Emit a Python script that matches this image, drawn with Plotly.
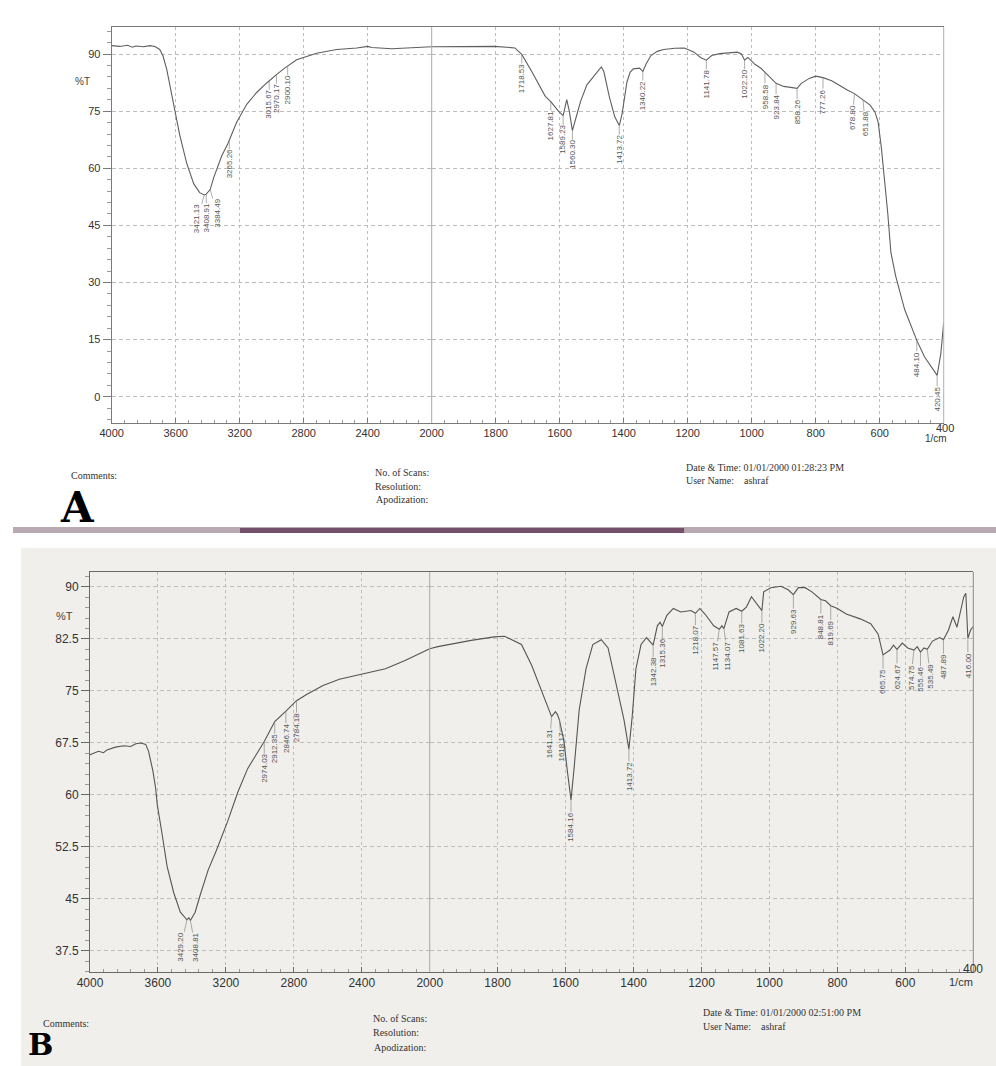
import numpy as np
import plotly.graph_objects as go

W, H = 996, 1066
def PX(px): return px / W
def PY(py): return 1 - py / H

# ---------------- Spectrum A ----------------
A_wavenumber = [4000, 3950, 3900, 3870, 3850, 3800, 3760, 3730, 3700, 3680,
                3656, 3630, 3612, 3575, 3531, 3487, 3450, 3421.13, 3408.91, 3384.49,
                3362, 3312, 3275, 3265.26, 3219, 3156, 3094, 3031, 3015.67, 2981,
                2970.17, 2919, 2900.10, 2844, 2719, 2594, 2469, 2400, 2375, 2250,
                2094, 2000, 1900, 1803, 1740, 1718.53, 1686, 1645, 1627.81, 1604,
                1589.23, 1578, 1570, 1560.30, 1548, 1535, 1515, 1495, 1478, 1470,
                1462, 1445, 1428, 1413.72, 1405, 1398, 1390, 1380, 1370, 1350,
                1340.22, 1330, 1315, 1295, 1275, 1240, 1210, 1180, 1160, 1141.78,
                1125, 1100, 1070, 1045, 1032, 1022.20, 1012, 990, 970, 958.58,
                940, 923.84, 900, 875, 858.26, 845, 820, 800, 777.26, 750,
                720, 700, 678.80, 651.88, 630, 615, 605, 595, 585, 575,
                565, 550, 522, 484.10, 460, 420.45, 409, 400]
A_transmittance = [92.2, 92.0, 92.3, 91.8, 92.1, 91.9, 92.2, 92.0, 91.2, 89.6,
                   86.0, 80.5, 76.5, 68.8, 61.3, 55.9, 53.6, 53.0, 53.2, 54.4,
                   57.6, 63.3, 66.4, 67.4, 72.1, 76.8, 79.9, 82.4, 83.0, 84.1,
                   84.6, 86.3, 86.9, 88.5, 90.2, 91.2, 91.6, 92.0, 91.7, 91.4,
                   91.7, 91.9, 92.0, 92.0, 91.6, 89.9, 85.2, 78.9, 77.5, 75.0,
                   73.8, 78.0, 75.0, 69.9, 73.6, 77.5, 81.9, 84.1, 85.9, 86.6,
                   85.4, 78.8, 73.5, 71.2, 74.3, 78.6, 82.6, 85.2, 86.1, 86.3,
                   85.4, 87.4, 89.6, 90.7, 91.2, 91.5, 91.6, 90.5, 89.1, 88.4,
                   89.6, 90.1, 90.4, 90.5, 90.0, 88.4, 89.1, 87.3, 86.2, 85.2,
                   83.5, 82.3, 81.5, 81.2, 81.0, 82.3, 83.6, 84.2, 83.8, 83.0,
                   81.4, 80.5, 79.6, 77.9, 76.6, 74.8, 72.2, 65.6, 57.7, 48.4,
                   37.9, 31.7, 22.9, 14.8, 10.5, 5.6, 11.3, 19.5]
A_peak_labels = ["3421.13", "3408.91", "3384.49", "3265.26", "3015.67", "2970.17",
                 "2900.10", "1718.53", "1627.81", "1589.23", "1560.30", "1413.72",
                 "1340.22", "1141.78", "1022.20", "958.58", "923.84", "858.26",
                 "777.26", "678.80", "651.88", "484.10", "420.45"]

# ---------------- Spectrum B ----------------
B_wavenumber = [4000, 3950, 3920, 3900, 3850, 3800, 3760, 3730, 3700, 3672,
                3655, 3630, 3613, 3604, 3575, 3546, 3507, 3468, 3429.20, 3418,
                3408.81, 3381, 3352, 3304, 3256, 3188, 3130, 3072, 2974.03, 2912.35,
                2846.74, 2784.18, 2725, 2628, 2532, 2387, 2261, 2145, 2020, 2000,
                1976, 1878, 1810, 1780, 1760, 1730, 1700, 1670, 1641.31, 1630,
                1624, 1618.17, 1605, 1595, 1584.16, 1575, 1560, 1540, 1520, 1495,
                1475, 1450, 1428, 1413.72, 1404, 1393, 1378, 1362, 1342.38, 1330,
                1322, 1315.36, 1302, 1283, 1261, 1231, 1218.07, 1205, 1190, 1164,
                1147.57, 1140, 1134.07, 1119, 1098, 1081.63, 1068, 1053, 1037, 1022.20,
                1017, 996, 966, 945, 929.63, 915, 895, 875, 848.81, 835,
                819.69, 800, 774, 733, 702, 680, 665.75, 645, 635, 624.67,
                609, 593, 574.75, 565, 555.46, 545, 535.49, 520, 499, 487.89,
                473, 460, 448, 438, 428, 422, 416.00, 408, 400]
B_transmittance = [65.8, 66.3, 66.1, 66.5, 66.9, 67.1, 67.0, 67.4, 67.5, 67.3,
                   66.3, 63.5, 60.9, 58.6, 54.3, 49.7, 45.9, 43.1, 42.0, 42.3,
                   41.9, 43.1, 45.5, 49.2, 52.0, 56.3, 60.4, 63.8, 67.7, 70.6,
                   72.1, 73.6, 74.5, 75.8, 76.7, 77.5, 78.2, 79.4, 80.9, 81.1,
                   81.4, 82.3, 82.8, 82.9, 82.4, 81.7, 78.7, 74.8, 71.3, 72.0,
                   71.6, 70.8, 67.8, 63.5, 59.3, 63.9, 72.3, 78.2, 81.7, 82.4,
                   81.2, 75.7, 70.8, 66.6, 71.3, 78.2, 81.7, 82.7, 81.6, 84.4,
                   84.9, 84.3, 85.9, 86.9, 86.4, 86.6, 86.2, 86.9, 86.1, 84.4,
                   83.9, 84.4, 84.0, 86.4, 86.9, 86.5, 87.1, 88.6, 87.6, 86.6,
                   89.3, 89.9, 90.1, 89.6, 88.9, 89.9, 89.9, 89.3, 88.2, 88.0,
                   87.3, 86.9, 86.1, 85.4, 84.7, 83.2, 80.2, 80.9, 81.6, 81.0,
                   81.9, 81.2, 80.9, 81.4, 80.6, 81.2, 81.0, 82.2, 82.7, 82.4,
                   83.8, 85.7, 84.2, 86.5, 88.6, 89.1, 82.6, 83.8, 84.3]
B_peak_labels = ["3429.20", "3408.81", "2974.03", "2912.35", "2846.74", "2784.18",
                 "1641.31", "1618.17", "1584.16", "1413.72", "1342.38", "1315.36",
                 "1218.07", "1147.57", "1134.07", "1081.63", "1022.20", "929.63",
                 "848.81", "819.69", "665.75", "624.67", "574.75", "555.46",
                 "535.49", "487.89", "416.00"]

A_yticks = [0, 15, 30, 45, 60, 75, 90]
B_yticks = [37.5, 45, 52.5, 60, 67.5, 75, 82.5, 90]
hi_xticks = [4000, 3600, 3200, 2800, 2400]
lo_xticks = [2000, 1800, 1600, 1400, 1200, 1000, 800, 600, 400]

assert len(A_wavenumber) == len(A_transmittance)
assert len(B_wavenumber) == len(B_transmittance)

SANS = "Liberation Sans, Arial, sans-serif"
SERIF = "Liberation Serif, Times New Roman, serif"

fig = go.Figure()

def add_spectrum(wn, t, xhi, xlo, yax, color):
    wn = np.asarray(wn, float)
    t = np.asarray(t, float)
    hi = wn >= 2000
    lo = wn <= 2000
    for mask, xa in ((hi, xhi), (lo, xlo)):
        fig.add_trace(go.Scatter(x=wn[mask], y=t[mask], xaxis=xa, yaxis=yax,
                                 mode="lines", line=dict(color=color, width=1.1),
                                 showlegend=False, hoverinfo="skip"))

add_spectrum(A_wavenumber, A_transmittance, "x", "x2", "y", "#5f5f5f")
add_spectrum(B_wavenumber, B_transmittance, "x3", "x4", "y2", "#555555")

annotations = []

def peak_annots(labels, wn, t, xhi, xlo, yref, ay, offsets, size):
    wn_a = np.asarray(wn, float)[::-1]
    t_a = np.asarray(t, float)[::-1]
    for lab in labels:
        w = float(lab)
        v = float(np.interp(w, wn_a, t_a))
        annotations.append(dict(
            x=w, y=v, xref=xhi if w > 2000 else xlo, yref=yref,
            text=lab, textangle=-90, showarrow=True, arrowhead=0,
            arrowwidth=0.7, arrowcolor="#8a8a8a", ax=offsets.get(lab, 0), ay=ay,
            font=dict(family=SANS, size=size, color="#555"), borderpad=0))

peak_annots(A_peak_labels, A_wavenumber, A_transmittance, "x", "x2", "y", 24,
            {"3421.13": -7, "3384.49": 7, "678.80": -2, "651.88": 2}, 8)
peak_annots(B_peak_labels, B_wavenumber, B_transmittance, "x3", "x4", "y2", 27,
            {"3429.20": -6, "3408.81": 5, "1147.57": -4, "1134.07": 4,
             "574.75": -3, "535.49": 3, "1641.31": -2, "1618.17": 2}, 8)

def text(s, px, py, size=11, family=SERIF, color="#333", xanchor="left"):
    annotations.append(dict(text=s, x=PX(px), y=PY(py), xref="paper", yref="paper",
                            showarrow=False, xanchor=xanchor, yanchor="middle",
                            font=dict(family=family, size=size, color=color)))

# panel A texts
text("%T", 70, 82, 10, SANS, "#444", "center")
text("400", 944, 428, 11, SANS, "#333", "center")
text("1/cm", 935, 439, 10, SANS, "#333", "center")
text("Comments:", 57, 476, 10)
text("No. of Scans:", 365, 472, 10)
text("Resolution:", 365, 486, 10)
text("Apodization:", 366, 499, 10)
text("Date &amp; Time: 01/01/2000 01:28:23 PM", 680, 467, 10)
text("User Name:&nbsp;&nbsp;&nbsp;&nbsp;ashraf", 680, 480, 10)
text("<b>A</b>", 65, 507, 42, "DejaVu Serif, serif", "#000", "center")
# panel B texts
text("%T", 52, 616, 11, SANS, "#444", "center")
text("400", 973, 969, 12, SANS, "#333", "center")
text("1/cm", 961, 982, 11, SANS, "#333", "center")
text("Comments:", 28, 1023, 10)
text("No. of Scans:", 363, 1018, 10)
text("Resolution:", 363, 1032, 10)
text("Apodization:", 364, 1047, 10)
text("Date &amp; Time: 01/01/2000 02:51:00 PM", 697, 1012, 10)
text("User Name:&nbsp;&nbsp;&nbsp;&nbsp;ashraf", 697, 1026, 10)
text("<b>B</b>", 28, 1044, 30, "DejaVu Serif, serif", "#000", "center")

def xaxis_cfg(domain, rng, anchor, ticks, tick0, mdt, fsize, lc):
    return dict(domain=domain, range=rng, anchor=anchor,
                tickmode="array", tickvals=ticks,
                ticktext=[("" if v == 400 else str(v)) for v in ticks],
                showline=True, mirror=True, linecolor=lc, linewidth=1,
                showgrid=True, gridcolor="#bdbdbd", griddash="dot", gridwidth=1,
                zeroline=False, ticks="inside", ticklen=5, tickcolor=lc,
                tickfont=dict(family=SANS, size=fsize, color="#333"),
                minor=dict(tick0=tick0, dtick=mdt, ticks="inside", ticklen=3,
                           tickcolor="#999", showgrid=False))

def yaxis_cfg(domain, rng, anchor, ticks, mdt, fsize, lc):
    return dict(domain=domain, range=rng, anchor=anchor,
                tickmode="array", tickvals=ticks,
                ticktext=[("%g" % v) for v in ticks],
                showline=True, linecolor=lc, linewidth=1,
                showgrid=True, gridcolor="#bdbdbd", griddash="4px,3px", gridwidth=1,
                zeroline=False, ticks="outside", ticklen=8, tickcolor=lc,
                tickfont=dict(family=SANS, size=fsize, color="#333"),
                minor=dict(tick0=0, dtick=mdt, ticks="outside", ticklen=4,
                           tickcolor="#999", showgrid=False))

A_split = 100 + 5 * (943 - 100) / 13
B_split = 78 + 5 * (973 - 78) / 13

shapes = [
    dict(type="rect", xref="paper", yref="paper", x0=PX(8), x1=1, y0=0, y1=PY(548),
         fillcolor="#f0efec", line=dict(width=0), layer="below"),
    dict(type="rect", xref="paper", yref="paper", x0=0, x1=1, y0=PY(533), y1=PY(527),
         fillcolor="#b9a9b3", line=dict(width=0), layer="below"),
    dict(type="rect", xref="paper", yref="paper", x0=PX(230), x1=PX(680), y0=PY(533), y1=PY(528),
         fillcolor="#74506a", line=dict(width=0), layer="below"),
    dict(type="line", xref="x2 domain", yref="y domain", x0=0, x1=0, y0=0, y1=1,
         line=dict(color="#a8a8a8", width=1)),
    dict(type="line", xref="x2 domain", yref="y domain", x0=1, x1=1, y0=0, y1=1,
         line=dict(color="#b0b0b0", width=1)),
    dict(type="line", xref="x4 domain", yref="y2 domain", x0=0, x1=0, y0=0, y1=1,
         line=dict(color="#a8a8a8", width=1)),
    dict(type="line", xref="x4 domain", yref="y2 domain", x0=1, x1=1, y0=0, y1=1,
         line=dict(color="#8a8a8a", width=1)),
]

fig.update_layout(
    width=W, height=H, margin=dict(l=0, r=0, t=0, b=0),
    paper_bgcolor="white", plot_bgcolor="rgba(0,0,0,0)",
    showlegend=False,
    xaxis=xaxis_cfg([PX(100), PX(A_split)], [4000, 2000], "y", hi_xticks, 2000, 80, 11, "#7a7a7a"),
    xaxis2=xaxis_cfg([PX(A_split), PX(943)], [2000, 400], "y", lo_xticks, 400, 40, 11, "#7a7a7a"),
    yaxis=yaxis_cfg([PY(423), PY(27)], [-6.9, 97.1], "x", A_yticks, 3, 11, "#7a7a7a"),
    xaxis3=xaxis_cfg([PX(78), PX(B_split)], [4000, 2000], "y2", hi_xticks, 2000, 80, 12, "#6a6a6a"),
    xaxis4=xaxis_cfg([PX(B_split), PX(973)], [2000, 400], "y2", lo_xticks, 400, 40, 12, "#6a6a6a"),
    yaxis2=yaxis_cfg([PY(972), PY(572)], [34.47, 92.16], "x3", B_yticks, 1.5, 12, "#6a6a6a"),
    annotations=annotations,
    shapes=shapes,
)

fig.write_html("out.html")
